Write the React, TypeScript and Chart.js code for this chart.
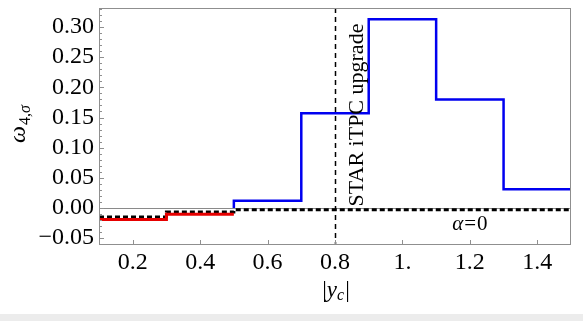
import React, { useEffect, useRef } from "react";
import { Chart, registerables } from "chart.js";

Chart.register(...registerables);

// ---- data ----
const redEdges = [0.1, 0.3, 0.5];
const redValues = [-0.019, -0.0105];
const blueEdges = [0.5, 0.7, 0.9, 1.1, 1.3, 1.5];
const blueValues = [0.012, 0.157, 0.313, 0.18, 0.031];
const blueStart = 0;
const alphaEdges = [0.1, 0.3, 0.5, 1.5];
const alphaValues = [-0.015, -0.0065, -0.003];
const upgradeX = 0.8;

const xTicks = [0.2, 0.4, 0.6, 0.8, 1.0, 1.2, 1.4];
const xTickLabels = ["0.2", "0.4", "0.6", "0.8", "1.", "1.2", "1.4"];
const yTicks = [-0.05, 0, 0.05, 0.1, 0.15, 0.2, 0.25, 0.3];
const yTickLabels = ["\u22120.05", "0.00", "0.05", "0.10", "0.15", "0.20", "0.25", "0.30"];
const yMinorStep = 0.01;

const X_MIN = 0.1, X_MAX = 1.5, Y_MIN = -0.0613, Y_MAX = 0.3315;
const SERIF = "'Liberation Serif', 'Times New Roman', serif";

function toSteps(edges: number[], values: number[]) {
  return edges.map((x, i) => ({ x, y: values[Math.min(i, values.length - 1)] }));
}

const decorPlugin = {
  id: "decor",
  beforeDatasetsDraw(chart: any) {
    const { ctx, chartArea: a, scales } = chart;
    const y0 = Math.round(scales.y.getPixelForValue(0)) + 0.5;
    ctx.save();
    ctx.strokeStyle = "#8a8a8a";
    ctx.lineWidth = 1;
    ctx.beginPath();
    ctx.moveTo(a.left, y0);
    ctx.lineTo(a.right, y0);
    ctx.stroke();
    ctx.restore();
  },
  afterDatasetsDraw(chart: any) {
    const { ctx, chartArea: a, scales } = chart;
    const xs = scales.x, ys = scales.y;
    ctx.save();
    // vertical dashed line
    const ux = Math.round(xs.getPixelForValue(upgradeX)) + 0.5;
    ctx.strokeStyle = "#000";
    ctx.lineWidth = 1.5;
    ctx.setLineDash([5, 4]);
    ctx.beginPath();
    ctx.moveTo(ux, a.top);
    ctx.lineTo(ux, a.bottom);
    ctx.stroke();
    ctx.setLineDash([]);

    // frame
    ctx.strokeStyle = "#8f8f8f";
    ctx.lineWidth = 1;
    ctx.strokeRect(a.left + 0.5, a.top + 0.5, a.right - a.left - 1, a.bottom - a.top - 1);

    // ticks
    ctx.beginPath();
    for (let v = Math.ceil(Y_MIN / yMinorStep) * yMinorStep; v <= Y_MAX; v += yMinorStep) {
      const vv = Math.round(v * 1000) / 1000;
      const isMajor = Math.abs(vv / 0.05 - Math.round(vv / 0.05)) < 1e-6;
      const py = Math.round(ys.getPixelForValue(vv)) + 0.5;
      ctx.moveTo(a.left, py);
      ctx.lineTo(a.left + (isMajor ? 5 : 3), py);
    }
    for (const v of xTicks) {
      const px = Math.round(xs.getPixelForValue(v)) + 0.5;
      ctx.moveTo(px, a.bottom);
      ctx.lineTo(px, a.bottom - 5);
    }
    ctx.stroke();

    // STAR iTPC upgrade
    ctx.fillStyle = "#000";
    ctx.font = `22px ${SERIF}`;
    ctx.save();
    ctx.translate(ux + 27, a.top + 107);
    ctx.rotate(-Math.PI / 2);
    ctx.textAlign = "center";
    ctx.textBaseline = "alphabetic";
    ctx.fillText("STAR iTPC upgrade", 0, 0);
    ctx.restore();

    // alpha = 0
    const ax = xs.getPixelForValue(1.2);
    const ay = ys.getPixelForValue(0) + 22;
    ctx.textBaseline = "alphabetic";
    ctx.textAlign = "left";
    ctx.font = `italic 21px ${SERIF}`;
    const wA = ctx.measureText("\u03b1").width;
    ctx.font = `21px ${SERIF}`;
    const wEq = ctx.measureText("=").width;
    const w0 = ctx.measureText("0").width;
    const total = wA + wEq + w0 + 2;
    let cx = ax - total / 2;
    ctx.font = `italic 21px ${SERIF}`;
    ctx.fillText("\u03b1", cx, ay);
    cx += wA + 1;
    ctx.font = `21px ${SERIF}`;
    ctx.fillText("=", cx, ay);
    cx += wEq + 1;
    ctx.fillText("0", cx, ay);

    // y title
    ctx.save();
    ctx.translate(25, 143);
    ctx.rotate(-Math.PI / 2);
    ctx.textAlign = "left";
    ctx.textBaseline = "alphabetic";
    ctx.font = `italic 24px ${SERIF}`;
    ctx.fillText("\u03c9", 0, 0);
    const wW = ctx.measureText("\u03c9").width;
    ctx.font = `16px ${SERIF}`;
    ctx.fillText("4,", wW + 1, 5);
    const w4 = ctx.measureText("4,").width;
    ctx.font = `italic 16px ${SERIF}`;
    ctx.fillText("\u03c3", wW + 1 + w4, 5);
    ctx.restore();

    // x title |y_c|
    const tx = xs.getPixelForValue(upgradeX) + 1;
    const ty = 297;
    ctx.font = `23px ${SERIF}`;
    const wBar = ctx.measureText("|").width;
    ctx.font = `italic 23px ${SERIF}`;
    const wy = ctx.measureText("y").width;
    ctx.font = `italic 16px ${SERIF}`;
    const wc = ctx.measureText("c").width;
    const tot = wBar * 2 + wy + wc + 1;
    let sx = tx - tot / 2;
    ctx.font = `23px ${SERIF}`;
    ctx.fillText("|", sx, ty);
    sx += wBar;
    ctx.font = `italic 23px ${SERIF}`;
    ctx.fillText("y", sx, ty);
    sx += wy;
    ctx.font = `italic 16px ${SERIF}`;
    ctx.fillText("c", sx, ty + 3);
    sx += wc + 1;
    ctx.font = `23px ${SERIF}`;
    ctx.fillText("|", sx, ty);

    ctx.restore();
  },
};

export default function App() {
  const ref = useRef<HTMLCanvasElement | null>(null);
  useEffect(() => {
    let chart: any = null;
    let cancelled = false;
    const make = () => {
      if (cancelled || !ref.current) return;
      chart = new Chart(ref.current, {
        type: "line",
        data: {
          datasets: [
            {
              label: "red",
              data: toSteps(redEdges, redValues),
              borderColor: "#e60000",
              borderWidth: 3,
              stepped: "before",
              pointRadius: 0,
              fill: false,
            },
            {
              label: "alpha0",
              data: toSteps(alphaEdges, alphaValues),
              borderColor: "#000",
              borderWidth: 3,
              borderDash: [5, 3],
              stepped: "before",
              pointRadius: 0,
              fill: false,
            },
            {
              label: "blue",
              data: [{ x: blueEdges[0], y: blueStart }, ...toSteps(blueEdges, blueValues)],
              borderColor: "#0000f0",
              borderWidth: 2.5,
              stepped: "before",
              pointRadius: 0,
              fill: false,
            },
          ],
        },
        options: {
          animation: false,
          responsive: false,
          devicePixelRatio: 1,
          layout: { padding: { left: 0, right: 12, top: 8, bottom: 0 } },
          plugins: { legend: { display: false }, tooltip: { enabled: false } },
          scales: {
            x: {
              type: "linear",
              min: X_MIN,
              max: X_MAX,
              grid: { display: false, drawTicks: false },
              border: { display: false },
              afterBuildTicks: (s: any) => {
                s.ticks = xTicks.map((v) => ({ value: v }));
              },
              afterFit: (s: any) => {
                s.height = 69;
                s.paddingLeft = 0;
                s.paddingRight = 0;
              },
              ticks: {
                autoSkip: false,
                maxRotation: 0,
                padding: 3,
                color: "#000",
                font: { family: SERIF, size: 24 },
                callback: (v: any) => {
                  const i = xTicks.findIndex((t) => Math.abs(t - Number(v)) < 1e-9);
                  return i >= 0 ? xTickLabels[i] : "";
                },
              },
            },
            y: {
              type: "linear",
              min: Y_MIN,
              max: Y_MAX,
              grid: { display: false, drawTicks: false },
              border: { display: false },
              afterBuildTicks: (s: any) => {
                s.ticks = yTicks.map((v) => ({ value: v }));
              },
              afterFit: (s: any) => {
                s.width = 99;
                s.paddingTop = 0;
                s.paddingBottom = 0;
              },
              ticks: {
                autoSkip: false,
                padding: 5,
                color: "#000",
                font: { family: SERIF, size: 24 },
                callback: (v: any) => {
                  const i = yTicks.findIndex((t) => Math.abs(t - Number(v)) < 1e-9);
                  return i >= 0 ? yTickLabels[i] : "";
                },
              },
            },
          },
        },
        plugins: [decorPlugin],
      });
    };
    const fonts: any = (document as any).fonts;
    if (fonts && fonts.load) {
      Promise.all([
        fonts.load(`24px "Liberation Serif"`),
        fonts.load(`italic 24px "Liberation Serif"`),
      ])
        .catch(() => null)
        .then(make);
    } else {
      make();
    }
    return () => {
      cancelled = true;
      if (chart) chart.destroy();
    };
  }, []);

  return (
    <div style={{ position: "fixed", left: 0, top: 0, width: 583, height: 321, background: "#fff" }}>
      <canvas ref={ref} width={583} height={314} style={{ display: "block", width: 583, height: 314 }} />
      <div style={{ position: "absolute", left: 0, top: 314, width: 583, height: 7, background: "#ececec" }} />
    </div>
  );
}
